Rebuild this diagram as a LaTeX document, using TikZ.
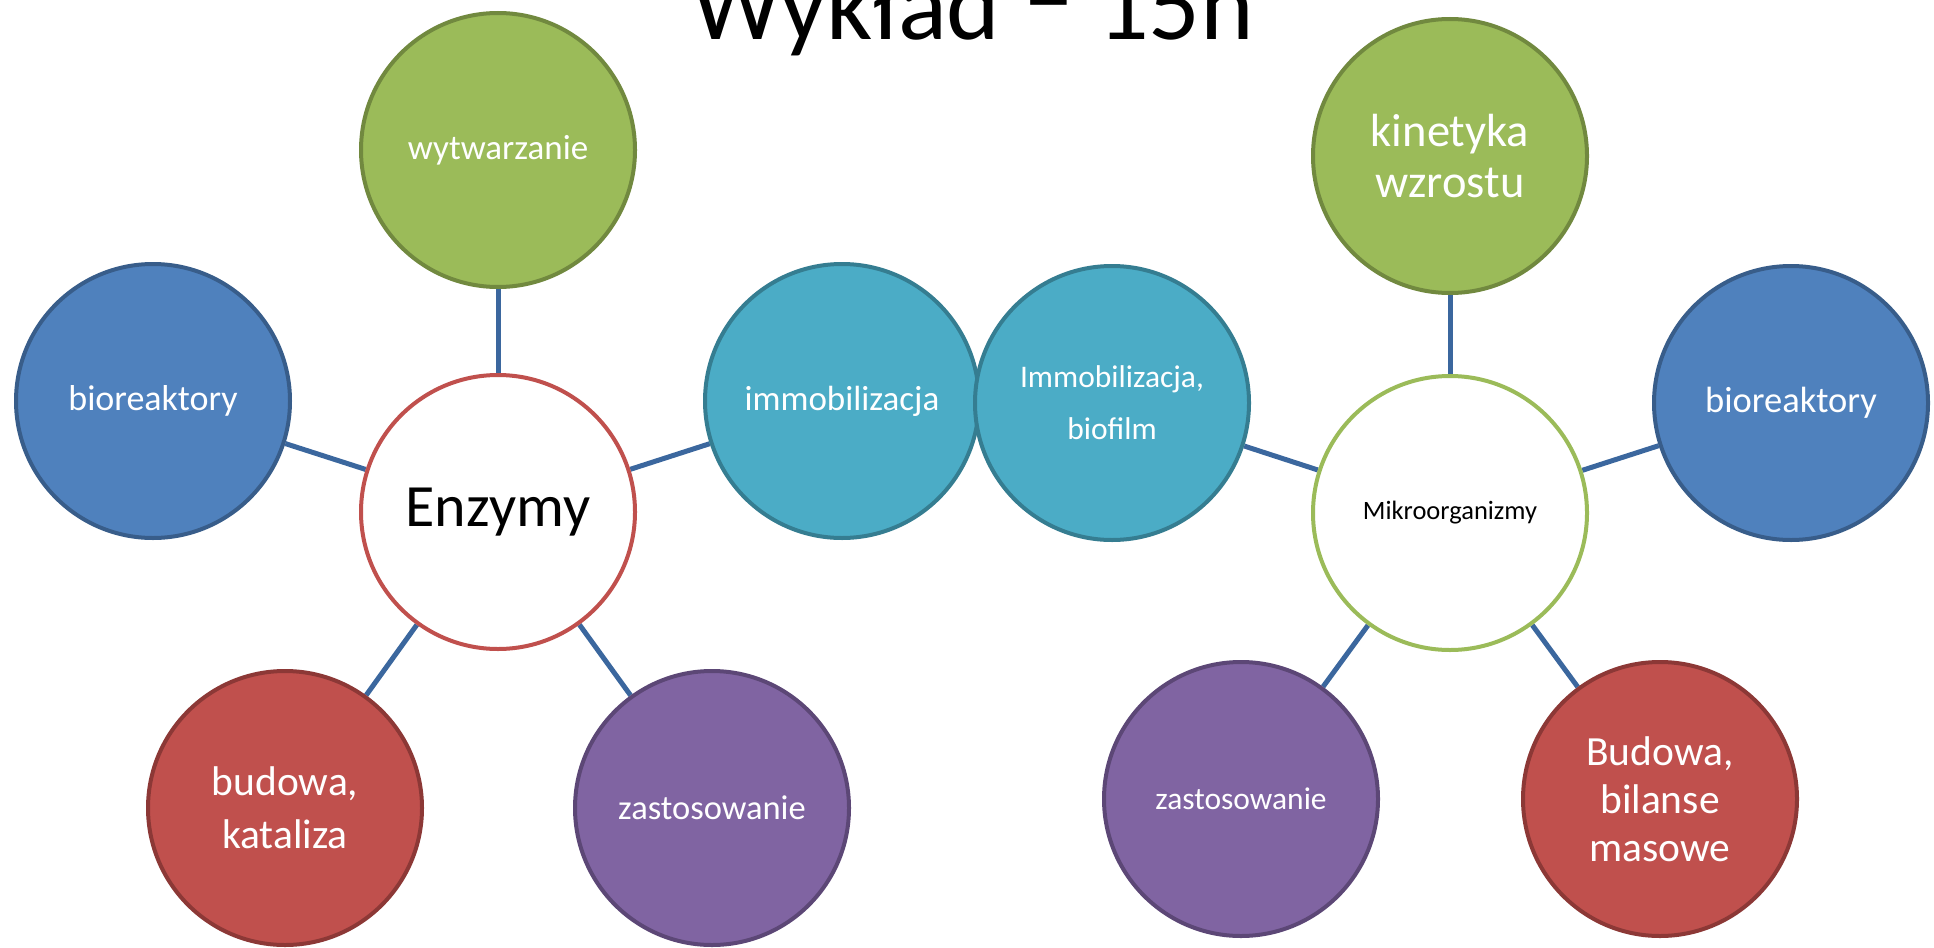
\documentclass[tikz,border=0pt]{standalone}
\usepackage{fontspec}
\setmainfont{Carlito}
\usetikzlibrary{backgrounds}
\definecolor{grnF}{HTML}{9BBB59}
\definecolor{grnD}{HTML}{71893F}
\definecolor{bluF}{HTML}{4F81BD}
\definecolor{bluD}{HTML}{385D8A}
\definecolor{aquF}{HTML}{4BACC6}
\definecolor{aquD}{HTML}{357D91}
\definecolor{redF}{HTML}{C0504D}
\definecolor{redD}{HTML}{8C3836}
\definecolor{purF}{HTML}{8064A2}
\definecolor{purD}{HTML}{5C4776}
\definecolor{linkC}{HTML}{3B679E}
\begin{document}
\begin{tikzpicture}[x=1pt,y=-1pt,
  bub/.style={circle, minimum size=274pt, inner sep=0pt, line width=4pt, align=center, text=white},
  grn/.style={bub, fill=grnF, draw=grnD},
  blu/.style={bub, fill=bluF, draw=bluD},
  aqu/.style={bub, fill=aquF, draw=aquD},
  rd/.style={bub, fill=redF, draw=redD},
  pur/.style={bub, fill=purF, draw=purD},
  hub/.style={bub, fill=white, text=black},
  link/.style={draw=linkC, line width=5pt}
]
\useasboundingbox (0,0) rectangle (1934,947);
\clip (0,0) rectangle (1934,947);

\node[anchor=base, font=\fontsize{102}{120}\selectfont] (title) at (973,40) {Wykład \raisebox{9pt}{–} 15h};

% left group
\node[hub, draw=redF, font=\fontsize{60}{72}\selectfont] (enz) at (498,512) {Enzymy};
\node[grn, font=\fontsize{35}{42}\selectfont] (wyt) at (498,150) {wytwarzanie};
\node[blu, font=\fontsize{36}{43}\selectfont] (bioL) at (153,401) {bioreaktory};
\node[aqu, font=\fontsize{35}{42}\selectfont] (imm) at (842,401) {immobilizacja};
\node[rd, font=\fontsize{41.5}{53}\selectfont] (bud) at (285,808) {budowa,\\kataliza};
\node[pur, font=\fontsize{34.5}{42}\selectfont] (zasL) at (712,808) {zastosowanie};

% right group
\node[hub, draw=grnF, font=\fontsize{26.5}{32}\selectfont] (mik) at (1450,513) {Mikroorganizmy};
\node[aqu, font=\fontsize{31.5}{52}\selectfont] (bio) at (1112,403) {Immobilizacja,\\biofilm};
\node[grn, font=\fontsize{46.5}{51}\selectfont] (kin) at (1450,156) {kinetyka\\wzrostu};
\node[blu, font=\fontsize{36.5}{44}\selectfont] (bioR) at (1791,403) {bioreaktory};
\node[pur, font=\fontsize{31.5}{38}\selectfont] (zasR) at (1241,799) {zastosowanie};
\node[rd, font=\fontsize{41.5}{48}\selectfont] (bil) at (1660,799) {Budowa,\\bilanse\\masowe};

\begin{pgfonlayer}{background}
\path[link] (enz) -- (wyt);
\path[link] (enz) -- (bioL);
\path[link] (enz) -- (imm);
\path[link] (enz) -- (bud);
\path[link] (enz) -- (zasL);
\path[link] (mik) -- (kin);
\path[link] (mik) -- (bio);
\path[link] (mik) -- (bioR);
\path[link] (mik) -- (zasR);
\path[link] (mik) -- (bil);
\end{pgfonlayer}
\end{tikzpicture}
\end{document}
